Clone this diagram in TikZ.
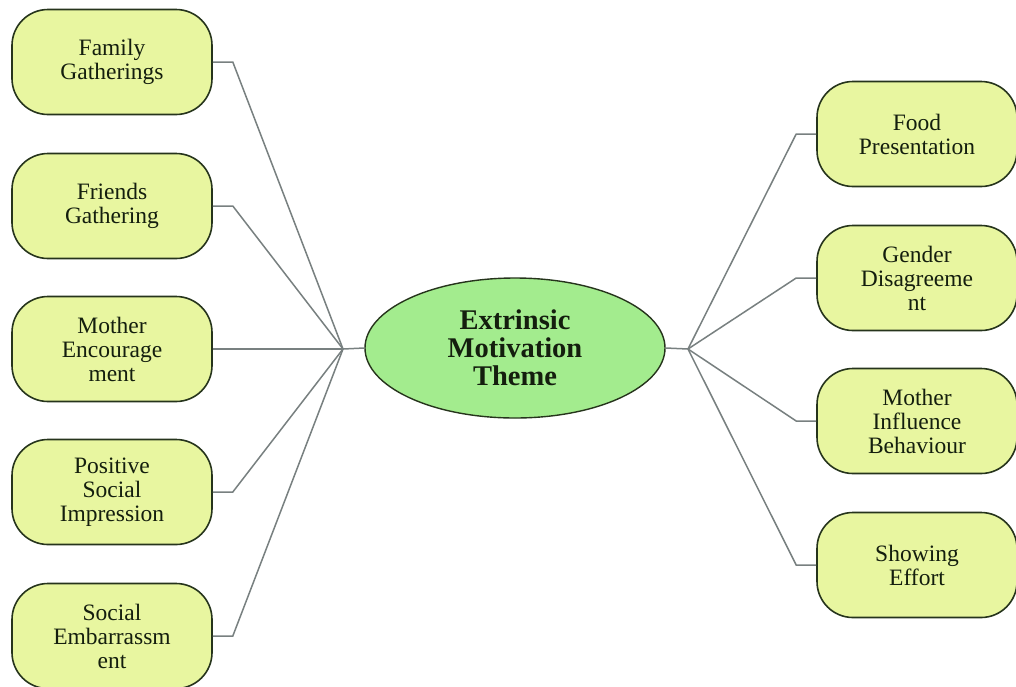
\documentclass[tikz,border=0pt]{standalone}
\usepackage{fontspec}
\setmainfont{Liberation Serif}
\usetikzlibrary{shapes.geometric}
\definecolor{boxfill}{RGB}{232,246,160}
\definecolor{themefill}{RGB}{163,236,142}
\definecolor{edgeline}{RGB}{38,52,28}
\definecolor{conncol}{RGB}{120,128,128}
\definecolor{txtcol}{RGB}{20,30,14}
\tikzset{
  topicbox/.style={draw=edgeline, line width=1.6pt, fill=boxfill,
    rounded corners=36pt, minimum width=200pt, minimum height=105pt,
    align=center, text=txtcol, font=\fontsize{23.5}{24}\selectfont, inner sep=0pt},
  themenode/.style={draw=edgeline, line width=1.4pt, fill=themefill, ellipse,
    minimum width=300pt, minimum height=140pt, inner sep=0pt,
    align=center, text=txtcol, font=\fontsize{28.5}{28}\selectfont\bfseries},
  conn/.style={draw=conncol, line width=1.5pt}
}
\begin{document}
\begin{tikzpicture}[x=1pt,y=-1pt]
\useasboundingbox[fill=white] (0,0) rectangle (1016,686);

% central theme
\node[themenode] (theme) at (515,348) {Extrinsic\\Motivation\\Theme};
\coordinate (hubL) at (343,349);
\coordinate (hubR) at (688,349);

% left topics
\node[topicbox] (l1) at (112,62)  {Family\\Gatherings};
\node[topicbox] (l2) at (112,206) {Friends\\Gathering};
\node[topicbox] (l3) at (112,349) {Mother\\Encourage\\ment};
\node[topicbox] (l4) at (112,492) {Positive\\Social\\Impression};
\node[topicbox] (l5) at (112,636) {Social\\Embarrassm\\ent};

% right topics
\node[topicbox] (r1) at (917,134) {Food\\Presentation};
\node[topicbox] (r2) at (917,278) {Gender\\Disagreeme\\nt};
\node[topicbox] (r3) at (917,421) {Mother\\Influence\\Behaviour};
\node[topicbox] (r4) at (917,565) {Showing\\Effort};

% connectors: short horizontal stub, then a spoke to the hub
\draw[conn] (theme.west) -- (hubL);
\draw[conn] (theme.east) -- (hubR);
\foreach \n in {l1,l2,l3,l4,l5}
  \draw[conn] (\n.east) -- ++(20,0) -- (hubL);
\foreach \n in {r1,r2,r3,r4}
  \draw[conn] (\n.west) -- ++(-20,0) -- (hubR);
\end{tikzpicture}
\end{document}
